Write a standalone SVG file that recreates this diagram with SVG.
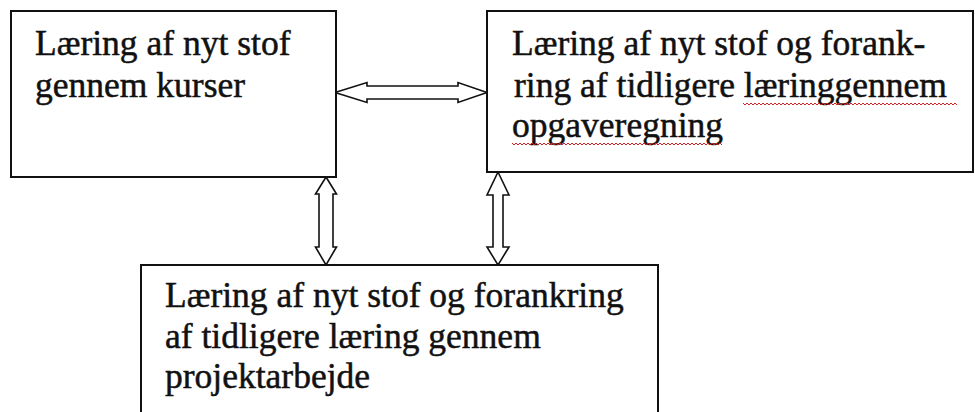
<svg xmlns="http://www.w3.org/2000/svg" width="975" height="412" viewBox="0 0 975 412">
<style>
.box{fill:#fff;stroke:#111;stroke-width:2}
.t{font-size:32px;fill:#111;stroke:#111;stroke-width:0.45}
.arr{fill:#fff;stroke:#111;stroke-width:1.6;stroke-linejoin:miter}
.sq{fill:none;stroke:#d42020;stroke-width:1}
</style>
<rect width="975" height="412" fill="#fff"/>
<g id="connectors">
<polygon class="arr" points="335,92.5 367,82.5 367,86 458,86 458,82.5 487,92.5 458,102.5 458,99 367,99 367,102.5"/>
<polygon class="arr" points="326,177 336.5,194 333,194 333,247 336.5,247 326,265 315.5,247 319,247 319,194 315.5,194"/>
<polygon class="arr" points="498,172 509,195 503,195 503,247 509,247 498,265 487,247 493,247 493,195 487,195"/>
</g>
<g id="node1" font-family="Liberation Serif">
<rect class="box" x="11" y="11" width="325" height="166"/>
<text class="t" transform="translate(35,55) scale(1.11)">Læring af nyt stof</text>
<text class="t" transform="translate(35,97) scale(1.11)">gennem kurser</text>
</g>
<g id="node2" font-family="Liberation Serif">
<rect class="box" x="487" y="11" width="486" height="161"/>
<text class="t" transform="translate(512,55) scale(1.11)">Læring af nyt stof og forank-</text>
<text class="t" transform="translate(514,97) scale(1.11)">ring af tidligere læringgennem</text>
<text class="t" transform="translate(512,137) scale(1.11)">opgaveregning</text>
<path class="sq" d="M743,103 l2,2 l2,-2 l2,2 l2,-2 l2,2 l2,-2 l2,2 l2,-2 l2,2 l2,-2 l2,2 l2,-2 l2,2 l2,-2 l2,2 l2,-2 l2,2 l2,-2 l2,2 l2,-2 l2,2 l2,-2 l2,2 l2,-2 l2,2 l2,-2 l2,2 l2,-2 l2,2 l2,-2 l2,2 l2,-2 l2,2 l2,-2 l2,2 l2,-2 l2,2 l2,-2 l2,2 l2,-2 l2,2 l2,-2 l2,2 l2,-2 l2,2 l2,-2 l2,2 l2,-2 l2,2 l2,-2 l2,2 l2,-2 l2,2 l2,-2 l2,2 l2,-2 l2,2 l2,-2 l2,2 l2,-2 l2,2 l2,-2 l2,2 l2,-2 l2,2 l2,-2 l2,2 l2,-2 l2,2 l2,-2 l2,2 l2,-2 l2,2 l2,-2 l2,2 l2,-2 l2,2 l2,-2 l2,2 l2,-2 l2,2 l2,-2 l2,2 l2,-2 l2,2 l2,-2 l2,2 l2,-2 l2,2 l2,-2 l2,2 l2,-2 l2,2 l2,-2 l2,2 l2,-2 l2,2 l2,-2 l2,2 l2,-2 l2,2 l2,-2 l2,2 l2,-2 l2,2 l2,-2 l2,2"/>
<path class="sq" d="M512,143 l2,2 l2,-2 l2,2 l2,-2 l2,2 l2,-2 l2,2 l2,-2 l2,2 l2,-2 l2,2 l2,-2 l2,2 l2,-2 l2,2 l2,-2 l2,2 l2,-2 l2,2 l2,-2 l2,2 l2,-2 l2,2 l2,-2 l2,2 l2,-2 l2,2 l2,-2 l2,2 l2,-2 l2,2 l2,-2 l2,2 l2,-2 l2,2 l2,-2 l2,2 l2,-2 l2,2 l2,-2 l2,2 l2,-2 l2,2 l2,-2 l2,2 l2,-2 l2,2 l2,-2 l2,2 l2,-2 l2,2 l2,-2 l2,2 l2,-2 l2,2 l2,-2 l2,2 l2,-2 l2,2 l2,-2 l2,2 l2,-2 l2,2 l2,-2 l2,2 l2,-2 l2,2 l2,-2 l2,2 l2,-2 l2,2 l2,-2 l2,2 l2,-2 l2,2 l2,-2 l2,2 l2,-2 l2,2 l2,-2 l2,2 l2,-2 l2,2 l2,-2 l2,2 l2,-2 l2,2 l2,-2 l2,2 l2,-2 l2,2 l2,-2 l2,2 l2,-2 l2,2 l2,-2 l2,2 l2,-2 l2,2 l2,-2 l2,2 l2,-2 l2,2 l2,-2 l2,2"/>
</g>
<g id="node3" font-family="Liberation Serif">
<rect class="box" x="141" y="265" width="517" height="160"/>
<text class="t" transform="translate(165,307) scale(1.11)">Læring af nyt stof og forankring</text>
<text class="t" transform="translate(165,348) scale(1.11)">af tidligere læring gennem</text>
<text class="t" transform="translate(165,388) scale(1.11)">projektarbejde</text>
</g>
</svg>
